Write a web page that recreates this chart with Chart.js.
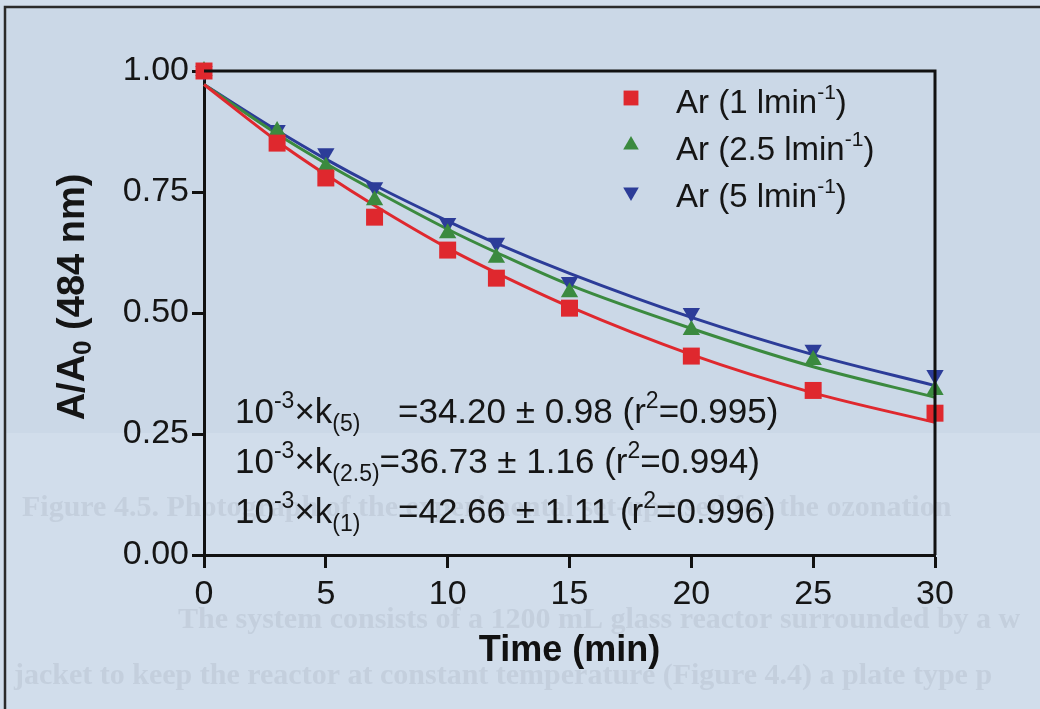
<!DOCTYPE html>
<html lang="en">
<head>
<meta charset="utf-8">
<title>A/A0 (484 nm) vs Time</title>
<script src="https://cdn.jsdelivr.net/npm/chart.js@4/dist/chart.umd.min.js"></script>
<style>
  html, body { margin: 0; padding: 0; background: #d0dcea; }
  #wrap { width: 1040px; height: 709px; }
</style>
</head>
<body>
<div id="wrap"><canvas id="c" width="1040" height="709"></canvas></div>
<script>
// measured points, time in min
var times = [0, 3, 5, 7, 10, 12, 15, 20, 25, 30];
var ar1 = [1.00, 0.851, 0.779, 0.698, 0.630, 0.572, 0.510, 0.411, 0.340, 0.293];
var ar25 = [1.00, 0.876, 0.802, 0.733, 0.665, 0.614, 0.543, 0.465, 0.403, 0.341];
var ar5 = [1.00, 0.878, 0.830, 0.760, 0.686, 0.645, 0.564, 0.500, 0.424, 0.372];
// fitted curves at the same times
var fit1 = [0.972, 0.855, 0.786, 0.722, 0.634, 0.583, 0.513, 0.414, 0.335, 0.274];
var fit25 = [0.972, 0.870, 0.809, 0.753, 0.673, 0.625, 0.558, 0.468, 0.389, 0.326];
var fit5 = [0.972, 0.877, 0.818, 0.764, 0.690, 0.644, 0.582, 0.491, 0.414, 0.350];

var seriesNames = ['Ar (1 lmin', 'Ar (2.5 lmin', 'Ar (5 lmin'];
var fitLines = [
  ['10', '-3', '\u00d7k', '(5)', '=34.20 \u00b1 0.98 (r', '2', '=0.995)'],
  ['10', '-3', '\u00d7k', '(2.5)', '=36.73 \u00b1 1.16 (r', '2', '=0.994)'],
  ['10', '-3', '\u00d7k', '(1)', '=42.66 \u00b1 1.11 (r', '2', '=0.996)']
];
var yTicks = [0, 0.25, 0.5, 0.75, 1.0];

var RED = '#df282e', GREEN = '#3b8a3f', BLUE = '#2c3c98';
var FONT = '"Liberation Sans", Arial, sans-serif';

function pts(ys) {
  return times.map(function (t, i) { return { x: t, y: ys[i] }; });
}

// scanned page look behind the plot
var pagePlugin = {
  id: 'page',
  beforeDraw: function (chart) {
    var ctx = chart.ctx;
    ctx.save();
    ctx.fillStyle = '#d1ddeb';
    ctx.fillRect(0, 0, chart.width, chart.height);
    ctx.fillStyle = '#cbd8e7';
    ctx.fillRect(6, 8, chart.width, 425);
    ctx.fillStyle = 'rgba(105,115,135,0.13)';
    ctx.font = 'bold 30px "Liberation Serif", serif';
    ctx.fillText('Figure 4.5. Photograph of the experimental set-up used for the ozonation', 22, 516);
    ctx.fillText('The system consists of a 1200 mL glass reactor surrounded by a w', 178, 628);
    ctx.fillText('jacket to keep the reactor at constant temperature (Figure 4.4) a plate type p', 14, 684);
    ctx.strokeStyle = '#2a2a2a';
    ctx.lineWidth = 2.5;
    ctx.beginPath();
    ctx.moveTo(5, chart.height);
    ctx.lineTo(5, 7);
    ctx.lineTo(chart.width, 7);
    ctx.stroke();
    ctx.restore();
  }
};

function drawRuns(ctx, x, y, runs) {
  runs.forEach(function (r) {
    ctx.font = r.size + 'px ' + FONT;
    if (r.at) x = Math.max(x, r.at);
    ctx.fillText(r.t, x, y + (r.dy || 0));
    x += ctx.measureText(r.t).width;
  });
  return x;
}

function marker(ctx, style, x, y, r, color) {
  ctx.fillStyle = color;
  ctx.beginPath();
  if (style === 'rect') {
    var s = r * Math.SQRT1_2;
    ctx.rect(x - s, y - s, 2 * s, 2 * s);
  } else {
    var dir = style === 'down' ? 1 : -1;
    ctx.moveTo(x, y + dir * r);
    ctx.lineTo(x + r * 0.866, y - dir * r * 0.5);
    ctx.lineTo(x - r * 0.866, y - dir * r * 0.5);
    ctx.closePath();
  }
  ctx.fill();
}

var overlayPlugin = {
  id: 'overlay',
  afterDraw: function (chart) {
    var ctx = chart.ctx, a = chart.chartArea;
    ctx.save();
    // top and right of the frame box
    ctx.strokeStyle = '#111';
    ctx.lineWidth = 3;
    ctx.beginPath();
    ctx.moveTo(a.left, a.top);
    ctx.lineTo(a.right, a.top);
    ctx.lineTo(a.right, a.bottom);
    ctx.stroke();

    // legend
    var styles = ['rect', 'up', 'down'], colors = [RED, GREEN, BLUE];
    var sizes = [10.5, 9, 9];
    ctx.textBaseline = 'alphabetic';
    for (var i = 0; i < 3; i++) {
      var by = 113 + i * 47;
      marker(ctx, styles[i], 631, by - 15, sizes[i], colors[i]);
      ctx.fillStyle = '#151515';
      drawRuns(ctx, 676, by, [
        { t: seriesNames[i], size: 33 },
        { t: '-1', size: 21, dy: -14 },
        { t: ')', size: 33 }
      ]);
    }

    // rate constants
    ctx.fillStyle = '#151515';
    fitLines.forEach(function (p, j) {
      var by = 423 + j * 50;
      drawRuns(ctx, 235, by, [
        { t: p[0], size: 35 },
        { t: p[1], size: 23, dy: -15 },
        { t: p[2], size: 35 },
        { t: p[3], size: 23, dy: 8 },
        { t: p[4], size: 35, at: j === 1 ? 0 : 398 },
        { t: p[5], size: 23, dy: -15 },
        { t: p[6], size: 35 }
      ]);
    });

    // y axis title with subscript
    ctx.translate(84, 297);
    ctx.rotate(-Math.PI / 2);
    var parts = [
      { t: 'A/A', size: 38 }, { t: '0', size: 26, dy: 7 }, { t: ' (484 nm)', size: 38 }
    ];
    var w = 0;
    parts.forEach(function (r) { ctx.font = 'bold ' + r.size + 'px ' + FONT; w += ctx.measureText(r.t).width; });
    var x = -w / 2;
    parts.forEach(function (r) {
      ctx.font = 'bold ' + r.size + 'px ' + FONT;
      ctx.fillText(r.t, x, r.dy || 0);
      x += ctx.measureText(r.t).width;
    });
    ctx.restore();
  }
};

function scatterSet(label, ys, color, style, rot, r) {
  return {
    type: 'scatter', label: label, data: pts(ys), showLine: false,
    pointStyle: style, rotation: rot, pointRadius: r, pointHoverRadius: r,
    backgroundColor: color, borderColor: color, borderWidth: 0, clip: false, order: 0
  };
}
function fitSet(label, ys, color) {
  return {
    type: 'line', label: label, data: pts(ys), borderColor: color, borderWidth: 3,
    pointRadius: 0, cubicInterpolationMode: 'monotone', fill: false, clip: false, order: 1
  };
}

new Chart(document.getElementById('c'), {
  type: 'scatter',
  data: {
    datasets: [
      scatterSet('Ar (1 lmin-1)', ar1, RED, 'rect', 0, 12),
      scatterSet('Ar (2.5 lmin-1)', ar25, GREEN, 'triangle', 0, 10),
      scatterSet('Ar (5 lmin-1)', ar5, BLUE, 'triangle', 180, 10),
      fitSet('fit 1', fit1, RED),
      fitSet('fit 2.5', fit25, GREEN),
      fitSet('fit 5', fit5, BLUE)
    ]
  },
  options: {
    responsive: false,
    animation: false,
    devicePixelRatio: 1,
    layout: { padding: { left: 0, top: 71, right: 105, bottom: 0 } },
    plugins: { legend: { display: false }, tooltip: { enabled: false } },
    scales: {
      x: {
        type: 'linear', min: 0, max: 30,
        afterFit: function (s) { s.height = 154; },
        ticks: { stepSize: 5, color: '#151515', font: { family: FONT, size: 34 }, padding: 6 },
        grid: { drawOnChartArea: false, tickLength: 13, tickWidth: 3, tickColor: '#111' },
        border: { display: true, color: '#111', width: 3 },
        title: { display: true, text: 'Time (min)', color: '#111',
          font: { family: FONT, size: 36, weight: 'bold' }, padding: { top: 0, bottom: 36 } }
      },
      y: {
        type: 'linear', min: 0, max: 1,
        afterFit: function (s) { s.width = 204; },
        afterBuildTicks: function (s) { s.ticks = yTicks.map(function (v) { return { value: v }; }); },
        ticks: { color: '#151515', font: { family: FONT, size: 34 }, padding: 3,
          callback: function (v) { return Number(v).toFixed(2); } },
        grid: { drawOnChartArea: false, tickLength: 12, tickWidth: 3, tickColor: '#111' },
        border: { display: true, color: '#111', width: 3 }
      }
    }
  },
  plugins: [pagePlugin, overlayPlugin]
});
</script>
</body>
</html>
